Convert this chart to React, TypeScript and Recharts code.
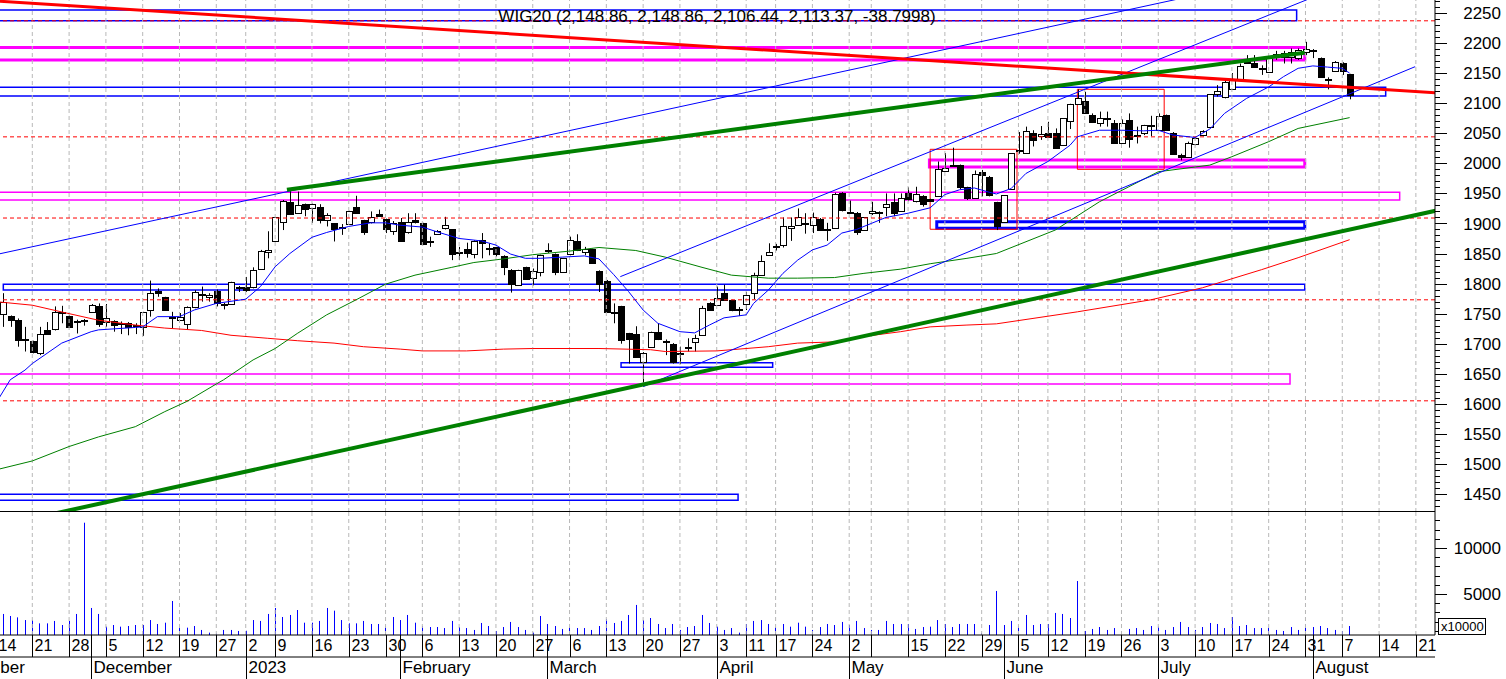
import React from 'react'
import { ComposedChart, Bar, Line, XAxis, YAxis, ReferenceLine, ReferenceArea } from 'recharts'

const FONT = "'Liberation Sans', Arial, sans-serif"

// x = trading-day index, 0 = 14 Nov 2022, 184 = 8 Aug 2023
const firstCandle = 1

// [open, high, low, close]
const ohlc: number[][] = [
  [1749, 1784, 1728, 1770], [1746, 1747, 1728, 1740], [1740, 1742, 1695, 1706], [1707, 1728, 1687, 1708], [1704, 1705, 1684, 1687],
  [1685, 1728, 1681, 1716], [1723, 1736, 1715, 1716], [1724, 1762, 1722, 1752], [1753, 1763, 1734, 1751], [1746, 1747, 1727, 1728],
  [1738, 1740, 1717, 1737], [1739, 1741, 1730, 1738], [1753, 1766, 1752, 1765], [1763, 1767, 1728, 1733], [1736, 1766, 1728, 1743],
  [1738, 1739, 1720, 1731], [1734, 1737, 1716, 1732], [1734, 1736, 1714, 1727], [1731, 1734, 1716, 1729], [1728, 1753, 1713, 1753],
  [1756, 1805, 1745, 1785], [1788, 1792, 1778, 1785], [1777, 1778, 1756, 1756], [1744, 1753, 1726, 1744], [1740, 1751, 1739, 1745],
  [1732, 1762, 1723, 1761], [1761, 1789, 1759, 1786], [1783, 1795, 1770, 1783], [1777, 1784, 1770, 1781], [1788, 1790, 1762, 1767],
  [1766, 1768, 1757, 1766], [1766, 1803, 1766, 1802], [1795, 1796, 1786, 1793], [1794, 1811, 1786, 1789], [1794, 1827, 1792, 1823],
  [1825, 1856, 1823, 1854], [1852, 1887, 1842, 1856], [1871, 1910, 1871, 1910], [1903, 1939, 1889, 1937], [1936, 1956, 1914, 1915],
  [1917, 1953, 1916, 1931], [1932, 1933, 1912, 1924], [1925, 1933, 1901, 1932], [1927, 1932, 1900, 1906], [1906, 1917, 1895, 1914],
  [1900, 1900, 1870, 1890], [1894, 1899, 1881, 1894], [1899, 1921, 1899, 1921], [1927, 1946, 1917, 1918], [1905, 1906, 1881, 1885],
  [1903, 1920, 1900, 1910], [1916, 1923, 1912, 1913], [1907, 1908, 1884, 1890], [1888, 1904, 1881, 1901], [1903, 1909, 1870, 1871],
  [1885, 1917, 1883, 1903], [1906, 1917, 1900, 1903], [1900, 1901, 1864, 1866], [1870, 1878, 1861, 1870], [1882, 1889, 1881, 1887],
  [1892, 1911, 1890, 1897], [1890, 1890, 1839, 1849], [1853, 1861, 1839, 1853], [1857, 1868, 1843, 1851], [1849, 1872, 1842, 1870],
  [1872, 1884, 1842, 1867], [1859, 1867, 1847, 1859], [1860, 1861, 1845, 1850], [1846, 1847, 1814, 1827], [1823, 1824, 1785, 1799],
  [1798, 1823, 1797, 1822], [1827, 1828, 1806, 1807], [1810, 1825, 1797, 1821], [1820, 1848, 1812, 1848], [1855, 1867, 1851, 1854],
  [1849, 1850, 1814, 1820], [1820, 1842, 1819, 1842], [1849, 1878, 1847, 1872], [1870, 1882, 1854, 1856], [1853, 1861, 1847, 1858],
  [1857, 1858, 1835, 1835], [1821, 1822, 1786, 1799], [1805, 1806, 1753, 1753], [1753, 1767, 1734, 1753], [1762, 1763, 1700, 1706],
  [1717, 1718, 1667, 1707], [1716, 1729, 1678, 1678], [1670, 1686, 1630, 1685], [1695, 1720, 1694, 1719], [1720, 1733, 1706, 1707],
  [1705, 1707, 1681, 1705], [1700, 1701, 1667, 1670], [1685, 1695, 1666, 1684], [1695, 1709, 1687, 1695], [1702, 1715, 1687, 1709],
  [1714, 1763, 1713, 1760], [1768, 1769, 1755, 1756], [1764, 1795, 1763, 1776], [1784, 1798, 1772, 1773], [1772, 1773, 1754, 1756],
  [1757, 1761, 1746, 1757], [1766, 1786, 1756, 1781], [1785, 1818, 1774, 1814], [1814, 1847, 1813, 1838], [1847, 1867, 1846, 1853],
  [1860, 1866, 1855, 1863], [1864, 1910, 1860, 1896], [1892, 1910, 1871, 1896], [1897, 1925, 1896, 1910], [1901, 1917, 1883, 1900],
  [1897, 1918, 1884, 1910], [1907, 1909, 1888, 1889], [1890, 1901, 1871, 1889], [1892, 1951, 1891, 1949], [1951, 1952, 1920, 1922],
  [1919, 1938, 1917, 1918], [1918, 1919, 1881, 1886], [1889, 1910, 1888, 1910], [1917, 1936, 1914, 1921], [1917, 1920, 1901, 1919],
  [1927, 1950, 1912, 1932], [1935, 1950, 1912, 1917], [1921, 1950, 1920, 1942], [1950, 1960, 1937, 1940], [1938, 1961, 1935, 1949],
  [1946, 1947, 1928, 1932], [1940, 1941, 1936, 1938], [1946, 2003, 1945, 1990], [1988, 2017, 1987, 1992], [1996, 2026, 1994, 1998],
  [1997, 1998, 1957, 1960], [1960, 1961, 1939, 1943], [1943, 1988, 1942, 1983], [1986, 1989, 1945, 1981], [1978, 1979, 1945, 1948],
  [1935, 1936, 1889, 1895], [1903, 1947, 1902, 1947], [1958, 2017, 1957, 2017], [2020, 2052, 2016, 2022], [2017, 2061, 2016, 2053],
  [2051, 2055, 2028, 2039], [2045, 2062, 2039, 2049], [2050, 2069, 2044, 2044], [2050, 2058, 2025, 2025], [2030, 2075, 2029, 2075],
  [2071, 2099, 2057, 2099], [2099, 2123, 2097, 2108], [2103, 2119, 2084, 2084], [2080, 2083, 2067, 2068], [2067, 2086, 2061, 2076],
  [2076, 2086, 2061, 2076], [2067, 2072, 2033, 2034], [2033, 2073, 2033, 2067], [2072, 2083, 2026, 2040], [2047, 2061, 2033, 2047],
  [2050, 2064, 2047, 2064], [2064, 2079, 2045, 2062], [2055, 2083, 2055, 2079], [2080, 2081, 2055, 2055], [2051, 2052, 2015, 2015],
  [2013, 2016, 2005, 2011], [2010, 2036, 2010, 2033], [2032, 2044, 2030, 2042], [2047, 2055, 2045, 2053], [2060, 2115, 2059, 2115],
  [2116, 2130, 2111, 2120], [2111, 2139, 2108, 2136], [2123, 2150, 2122, 2140], [2140, 2166, 2138, 2162], [2170, 2180, 2166, 2167],
  [2167, 2180, 2160, 2161], [2158, 2163, 2147, 2158], [2152, 2178, 2152, 2176], [2176, 2187, 2172, 2182], [2183, 2187, 2166, 2176],
  [2177, 2191, 2166, 2185], [2175, 2191, 2172, 2188], [2185, 2202, 2180, 2190], [2189, 2190, 2175, 2189], [2175, 2176, 2144, 2144],
  [2141, 2143, 2123, 2141], [2154, 2170, 2152, 2169], [2166, 2168, 2147, 2154], [2148.86, 2148.86, 2106.44, 2113.37],
]

// volume, x10000
const volume = [
  2830, 2610, 2460, 2170, 2170, 1810, 1810, 2070, 1630, 2070,
  2830, 12750, 3480, 2830, 1450, 1630, 1450, 1520, 1630, 1630,
  2170, 1740, 1880, 4240, 1300, 1340, 1520, 1090, 800, 690,
  1090, 1090, 980, 1000, 2170, 2070, 2830, 3480, 2500, 2720,
  3260, 1880, 1880, 2070, 3480, 3190, 2170, 1810, 1810, 2070,
  1740, 1740, 1520, 2500, 2170, 2720, 1880, 1520, 1410, 1410,
  1300, 2070, 1410, 1300, 1090, 1850, 1520, 980, 1410, 1960,
  1410, 1090, 800, 2610, 1740, 1520, 1200, 1450, 1300, 1300,
  1090, 1520, 2280, 1850, 2070, 2720, 3810, 2170, 2390, 1740,
  1300, 1740, 1090, 1410, 1520, 2720, 1850, 1450, 1090, 1300,
  800, 1740,
  2070, 2170, 1740, 1410, 1740, 1450, 1880, 1450, 1090, 1410,
  1740, 1630, 1960, 1630, 2070, 1300, 1090, 1090, 2070, 1740,
  1740, 1740, 1200, 1410, 1450, 2170, 1740, 1410, 1740, 1740,
  1740, 760, 1630, 5330, 1630, 2070, 1520, 2720, 1630, 1740,
  1740, 2940, 2830, 2390, 6410, 980, 1200, 1410, 1090, 1300,
  980, 1200, 1300, 1090, 1520, 1450, 1090, 1410, 1960, 1410,
  1090, 1410, 1850, 1740, 1300, 2500, 1520, 1630, 1300, 1300,
  1300, 1090, 980, 1410, 1090, 1740, 1410, 1520, 1300, 1090,
  980, 1520,
]

// moving averages: [day, value]
const maFast = [
  [0, 1600], [2, 1640], [4, 1656], [5, 1667], [9, 1701], [13, 1720], [14, 1723], [19, 1727], [20, 1728], [22, 1745],
  [25, 1745], [27, 1756], [30, 1767], [34, 1774], [36, 1795], [38, 1828], [40, 1850], [43, 1877], [45, 1885], [48, 1895],
  [51, 1901], [53, 1901], [55, 1897], [58, 1894], [60, 1886], [63, 1875], [66, 1871], [68, 1864], [70, 1849], [72, 1842],
  [74, 1842], [77, 1844], [80, 1846], [82, 1841], [84, 1815], [86, 1787], [88, 1756], [90, 1734], [93, 1720], [95, 1718],
  [97, 1731], [99, 1743], [102, 1748], [103, 1767], [105, 1789], [107, 1817], [109, 1839], [111, 1856], [113, 1864], [115, 1884],
  [117, 1890], [119, 1900], [121, 1910], [124, 1917], [127, 1926], [129, 1948], [131, 1956], [133, 1959], [135, 1952], [136, 1949],
  [138, 1958], [140, 1983], [143, 2003], [146, 2030], [147, 2044], [150, 2055], [153, 2055], [156, 2054], [158, 2055], [160, 2047],
  [163, 2043], [165, 2057], [167, 2083], [170, 2108], [173, 2127], [175, 2144], [177, 2158], [179, 2162], [181, 2160], [183, 2158],
  [184, 2150],
]
const maMid = [
  [0, 1490], [5, 1505], [10, 1529], [14, 1545], [19, 1562], [23, 1587], [26, 1604], [30, 1633], [31, 1640], [35, 1673],
  [38, 1692], [41, 1717], [45, 1748], [49, 1773], [53, 1799], [57, 1814], [62, 1827], [65, 1835], [69, 1841], [73, 1848],
  [78, 1854], [82, 1860], [87, 1855], [91, 1844], [96, 1827], [100, 1814], [105, 1809], [109, 1809], [114, 1810], [118, 1817],
  [123, 1824], [127, 1833], [132, 1842], [136, 1850], [144, 1889], [150, 1936], [154, 1961], [158, 1986], [165, 1997], [168, 2011],
  [173, 2036], [177, 2058], [184, 2076],
]
const maSlow = [
  [0, 1770], [5, 1764], [10, 1750], [14, 1739], [19, 1731], [23, 1726], [28, 1722], [32, 1714], [37, 1709], [41, 1705],
  [46, 1701], [50, 1695], [55, 1691], [58, 1688], [64, 1688], [69, 1691], [73, 1692], [82, 1692], [89, 1690], [91, 1687],
  [98, 1688], [105, 1695], [109, 1701], [114, 1703], [118, 1712], [123, 1720], [127, 1728], [132, 1731], [136, 1733], [147, 1753],
  [157, 1773], [164, 1793], [172, 1823], [177, 1843], [184, 1873],
]

const weekTicks: [number, string][] = [
  [0, '14'], [5, '21'], [10, '28'], [15, '5'], [20, '12'], [25, '19'], [30, '27'], [34, '2'], [38, '9'], [43, '16'],
  [48, '23'], [53, '30'], [58, '6'], [63, '13'], [68, '20'], [73, '27'], [78, '6'], [83, '13'], [88, '20'], [93, '27'],
  [98, '3'], [102, '11'], [106, '17'], [111, '24'], [116, '2'], [119, ''], [124, '15'], [129, '22'], [134, '29'], [139, '5'],
  [143, '12'], [148, '19'], [153, '26'], [158, '3'], [163, '10'], [168, '17'], [173, '24'], [178, '31'], [183, '7'], [188, '14'],
  [193, '21'],
]
const monthTicks: [number, string][] = [
  [-7, 'November'], [13, 'December'], [34, '2023'], [55, 'February'], [75, 'March'], [98, 'April'],
  [116, 'May'], [137, 'June'], [158, 'July'], [179, 'August'],
]

const priceLabels = [1450, 1500, 1550, 1600, 1650, 1700, 1750, 1800, 1850, 1900, 1950, 2000, 2050, 2100, 2150, 2200, 2250]
const volumeLabels = [5000, 10000]

const redLevels = [2237, 2044, 1909, 1773, 1605]
const redTrend = [[0, 2270], [196, 2117]]
const greenTrends = [
  [[39.6, 1956], [177.9, 2184]],
  [[0, 1396], [196, 1922]],
]
const blueTrends = [
  [[0, 1848], [164, 2282]],
  [[84.9, 1811.5], [180, 2281]],
  [[88, 1628.5], [192.9, 2160.7]],
]
// [x1, x2, y1, y2]
const blueBoxes = [
  [-2, 176.8, 2237, 2255], [-2, 188.9, 2112, 2126.4], [1.06, 177.9, 1789.3, 1798.8],
  [85, 105.6, 1661, 1668.4], [-2, 100.9, 1439.6, 1449.6],
]
const blueHeavyBoxes = [[127.9, 177.9, 1892, 1902.9]]
const magentaBoxes = [[-2, 190.8, 1939, 1952], [-2, 175.9, 1633, 1649.6]]
const magentaHeavyBoxes = [[-2, 177.9, 2172, 2192.5], [126.9, 177.9, 1994, 2005.5]]
const redBoxes = [[147, 158.8, 1990, 2123.1], [127, 138.8, 1890.3, 2023.3]]

const X_DOMAIN = [0.61, 195.6]
const AXIS_X = 1435

const rows: any[] = Array.from({ length: 185 }, (_, i) => ({ idx: i }))
ohlc.forEach(([o, h, l, c], k) => Object.assign(rows[firstCandle + k], { o, h, l, c, range: [l, h] }))
volume.forEach((v, k) => { rows[firstCandle + k].vol = v })
maFast.forEach(([i, v]) => { rows[i].fast = v })
maMid.forEach(([i, v]) => { rows[i].mid = v })
maSlow.forEach(([i, v]) => { rows[i].slow = v })

const priceTicks: number[] = []
for (let v = 1430; v <= 2270; v += 10) priceTicks.push(v)
const volumeTicks: number[] = []
for (let v = 1000; v <= 13000; v += 1000) volumeTicks.push(v)
const dayLabel = new Map(weekTicks)
const monthLabel = new Map(monthTicks)

const Candle = (p: any) => {
  const d = p.payload
  if (!d || d.o == null) return null
  const top = Math.min(p.y, p.y + p.height)
  const span = Math.abs(p.height)
  const py = (v: number) => (d.h === d.l ? top : top + ((d.h - v) / (d.h - d.l)) * span)
  const cx = Math.round(p.x + p.width / 2) + 0.5
  const bTop = Math.round(py(Math.max(d.o, d.c))) + 0.5
  const bBot = Math.round(py(Math.min(d.o, d.c))) + 0.5
  const up = d.c >= d.o
  return (
    <g>
      <line x1={cx} x2={cx} y1={top} y2={top + span} stroke="#000" />
      <rect x={cx - 3} y={bTop} width={6} height={Math.max(bBot - bTop, 1)} fill={up ? '#fff' : '#000'} stroke="#000" />
    </g>
  )
}

const VolumeStick = (p: any) => {
  if (p.payload?.vol == null) return null
  const x = Math.round(p.x + p.width / 2) + 0.5
  const top = Math.min(p.y, p.y + p.height)
  return <line x1={x} x2={x} y1={top} y2={top + Math.abs(p.height)} stroke="#0000ff" />
}

const AxisTick = (p: any, labels: number[]) => {
  const v = p.payload.value
  const major = labels.includes(v)
  const y = Math.round(p.y) + 0.5
  return (
    <g>
      <line x1={AXIS_X} x2={AXIS_X + (major ? 12 : 5)} y1={y} y2={y} stroke="#000" />
      {major && (
        <text x={1501} y={p.y} dy="0.36em" textAnchor="end" fontSize={17} fontFamily={FONT} fill="#000">{v}</text>
      )}
    </g>
  )
}

const DayTick = (p: any) => {
  const x = Math.round(p.x) + 0.5
  const label = dayLabel.get(p.payload.value)
  return (
    <g>
      <line x1={x} x2={x} y1={123} y2={145} stroke="#000" />
      {label ? <text x={x + 2} y={139} fontSize={16} fontFamily={FONT} fill="#000">{label}</text> : null}
    </g>
  )
}

const MonthTick = (p: any) => {
  const x = Math.round(p.x) + 0.5
  return (
    <g>
      <line x1={x} x2={x} y1={123} y2={167} stroke="#000" />
      <text x={x + 2} y={161} fontSize={17} fontFamily={FONT} fill="#000">{monthLabel.get(p.payload.value)}</text>
    </g>
  )
}

const grid = weekTicks.map(([i]) => (
  <ReferenceLine key={'g' + i} x={i} stroke="#b8b8b8" strokeDasharray="4 3" ifOverflow="hidden" />
))

const boxes = (list: number[][], color: string, w: number, key: string) =>
  list.map(([x1, x2, y1, y2], k) => (
    <ReferenceArea key={key + k} x1={x1} x2={x2} y1={y1} y2={y2} fill="none" fillOpacity={0} stroke={color} strokeWidth={w} ifOverflow="hidden" />
  ))

const segs = (list: number[][][], color: string, w: number, key: string) =>
  list.map((s, k) => (
    <ReferenceLine key={key + k} segment={[{ x: s[0][0], y: s[0][1] }, { x: s[1][0], y: s[1][1] }]} stroke={color} strokeWidth={w} ifOverflow="hidden" />
  ))

export default function App() {
  return (
    <div style={{ position: 'relative', width: 1506, height: 679, background: '#fff', overflow: 'hidden' }}>
      <style>{'body{margin:0}'}</style>
      <ComposedChart width={1506} height={512} data={rows} margin={{ top: 0, right: 0, bottom: 0, left: 0 }}>
        <XAxis dataKey="idx" type="number" domain={X_DOMAIN} allowDataOverflow hide />
        <YAxis
          orientation="right" width={71} domain={[1420.1, 2271.6]} allowDataOverflow ticks={priceTicks} interval={0}
          tickLine={false} axisLine={{ stroke: '#000' }} tick={(p: any) => AxisTick(p, priceLabels)}
        />
        {grid}
        {redLevels.map((v) => (
          <ReferenceLine key={'r' + v} y={v} stroke="#ff0000" strokeDasharray="4 3" ifOverflow="hidden" />
        ))}
        <Bar dataKey="range" barSize={6} shape={Candle} isAnimationActive={false} />
        <Line dataKey="slow" stroke="#ff0000" strokeWidth={1} dot={false} connectNulls isAnimationActive={false} />
        <Line dataKey="mid" stroke="#008000" strokeWidth={1} dot={false} connectNulls isAnimationActive={false} />
        <Line dataKey="fast" stroke="#0000ff" strokeWidth={1} dot={false} connectNulls isAnimationActive={false} />
        {boxes(blueBoxes, '#0000ff', 1.5, 'bb')}
        {boxes(blueHeavyBoxes, '#0000ff', 3, 'bh')}
        {boxes(magentaBoxes, '#ff00ff', 1.5, 'mb')}
        {boxes(magentaHeavyBoxes, '#ff00ff', 3, 'mh')}
        {boxes(redBoxes, '#ff0000', 1, 'rb')}
        {segs(blueTrends, '#0000ff', 1, 'bt')}
        {segs([redTrend], '#ff0000', 3, 'rt')}
        {segs(greenTrends, '#008000', 4, 'gt')}
      </ComposedChart>
      <ComposedChart width={1506} height={167} data={rows} margin={{ top: 0, right: 0, bottom: 0, left: 0 }}>
        <XAxis
          dataKey="idx" type="number" domain={X_DOMAIN} allowDataOverflow height={22} ticks={weekTicks.map((t) => t[0])}
          interval={0} tickLine={false} axisLine={{ stroke: '#000' }} tick={DayTick}
        />
        <XAxis
          xAxisId="m" dataKey="idx" type="number" domain={X_DOMAIN} allowDataOverflow height={22} ticks={monthTicks.map((t) => t[0])}
          interval={0} tickLine={false} axisLine={{ stroke: '#000' }} tick={MonthTick}
        />
        <YAxis
          orientation="right" width={71} domain={[543, 13914]} allowDataOverflow ticks={volumeTicks} interval={0}
          tickLine={false} axisLine={{ stroke: '#000' }} tick={(p: any) => AxisTick(p, volumeLabels)}
        />
        {grid}
        <Bar dataKey="vol" barSize={1} shape={VolumeStick} isAnimationActive={false} />
      </ComposedChart>
      <svg width={1506} height={679} style={{ position: 'absolute', left: 0, top: 0, pointerEvents: 'none' }}>
        <line x1={0} x2={AXIS_X} y1={511.5} y2={511.5} stroke="#000" />
        <text x={717} y={21.5} textAnchor="middle" fontSize={17} fontFamily={FONT} fill="#000">
          WIG20 (2,148.86, 2,148.86, 2,106.44, 2,113.37, -38.7998)
        </text>
        <rect x={1438.5} y={618.5} width={47} height={16} fill="#fff" stroke="#000" />
        <text x={1441} y={631} fontSize={13} fontFamily={FONT} fill="#000">x10000</text>
      </svg>
    </div>
  )
}
